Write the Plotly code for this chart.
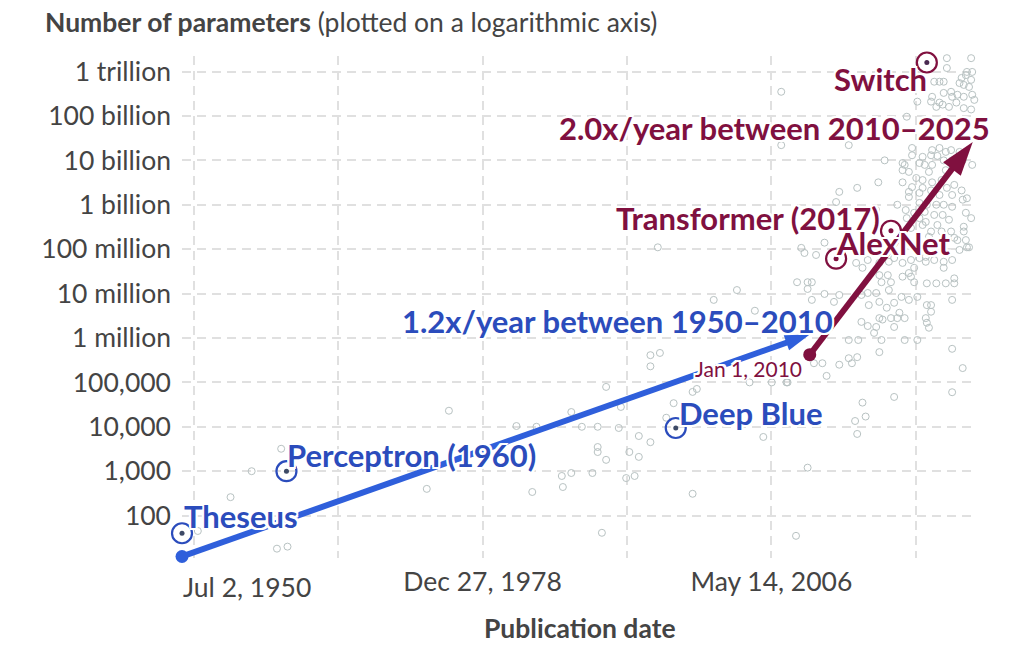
import pandas as pd
import plotly.graph_objects as go

# ---------------- data ----------------
bg_years = [
    # early era
    1975.8, 1955.1, 1957.1, 1959.9, 1952.0, 1959.5, 1960.5, 1973.7, 1982.2, 1984.1,
    1987.4, 1988.4, 1989.9, 1991.9, 1992.1, 1990.7, 1989.9, 1990.7, 1986.5, 1987.4,
    1989.4, 1986.6, 1983.7, 1992.9, 1993.8, 1993.8, 1994.9, 1992.6, 1993.4, 1990.3,
    # 1995-2009
    1995.6, 2003.1, 2000.9, 2004.8, 1994.9, 1995.8, 1994.9, 1999.3, 1998.9, 1997.1,
    1996.4, 1989.9, 1998.9, 2006.4, 2007.9, 2004.3, 2005.6, 2008.7,
    # 2009-2025, lower band
    2008.8, 2009.8, 2010.2, 2009.8, 2010.2, 2011.4, 2012.3, 2012.8, 2014.9, 2015.5,
    2016.3, 2016.6, 2017.5, 2015.6, 2017.3, 2018.0, 2018.7, 2019.4, 2020.2, 2021.1,
    2021.5, 2023.5, 2018.5, 2018.3, 2019.0, 2016.6, 2016.9, 2017.7, 2014.9, 2015.5,
    2016.3, 2016.1, 2018.0, 2021.0, 2021.1, 2021.3, 2013.7, 2014.6, 2016.8, 2019.0,
    2020.2, 2023.5, 2016.6, 2013.7, 2014.5, 2012.8, 2011.2, 2010.4,
    2014.4, 2015.0, 2015.5, 2016.6, 2017.5, 2018.0, 2018.8, 2019.6, 2019.9, 2020.4,
    2021.0, 2022.7, 2023.7, 2023.7, 2022.9, 2022.0, 2021.1, 2016.6, 2017.4, 2016.8,
    2017.7, 2019.6, 2019.9, 2019.4, 2018.8,
    2014.0, 2011.6, 2018.0, 2024.5, 2023.5, 2015.0, 2015.3, 2007.8, 2011.4, 2009.2,
    2009.5, 2010.6, 2024.9, 2024.2, 2024.6, 2023.7, 2021.5, 2014.3, 2014.5, 2009.8,
    # dense upper band
    2017.1, 2019.7, 2020.7, 2021.5, 2022.1, 2022.7, 2019.0, 2020.4, 2021.6, 2018.8,
    2019.4, 2021.3, 2022.9, 2020.1, 2020.7, 2021.6, 2022.5, 2016.5, 2018.8, 2019.7,
    2020.7, 2021.5, 2023.0, 2023.7, 2024.4, 2020.4, 2022.3, 2023.5, 2024.5, 2024.9,
    2019.4, 2020.4, 2021.1, 2022.0, 2022.7, 2023.5, 2018.3, 2019.1, 2019.9, 2020.9,
    2021.8, 2022.6, 2024.8, 2025.3, 2020.4, 2021.0, 2022.1, 2023.2, 2024.6, 2019.2,
    2019.6, 2020.7, 2021.5, 2022.5, 2023.4, 2022.7, 2024.8, 2021.3, 2024.0, 2025.1,
    2020.4, 2021.0, 2021.8, 2022.7, 2023.5, 2016.3,
    # top band
    2023.0, 2024.9, 2025.4, 2021.8, 2022.3, 2022.7, 2024.4, 2024.8, 2025.3, 2024.2,
    2024.6, 2025.1, 2023.4, 2024.0, 2024.6, 2025.4, 2022.7, 2023.5, 2021.6, 2022.3,
    2021.5, 2022.0, 2022.6, 2023.2, 2023.9, 2024.6, 2025.3, 2020.2, 2019.2, 2025.6,
    2019.7, 2021.6, 2022.3, 2022.9, 2023.4, 2024.2, 2023.5, 2024.5, 2018.8, 2020.9,
    2025.4,
    # sparse extras
    2007.3, 2007.3, 2013.7, 2012.8, 2014.5, 2012.5, 2023.0, 2025.3, 2019.4,
]
bg_params = [
    2.3e4, 260, 1.0e3, 3.2e3, 45, 18, 20, 400, 1.04e4, 1.0e4,
    2.15e4, 1.0e4, 1.0e4, 9.4e3, 2.8e4, 7.9e4, 3.5e3, 1.8e3, 780, 910,
    910, 440, 340, 2.7e3, 2.1e3, 6.2e3, 4.5e3, 700, 780, 41,
    1.1e8, 1.2e7, 7.2e6, 4.1e6, 4.1e5, 4.6e5, 2.3e5, 7.1e4, 6.1e4, 3.4e4,
    1.6e4, 2.7e3, 310, 1.0e5, 1.0e5, 1.0e5, 5.9e3, 35,
    1.8e7, 1.8e7, 1.8e7, 1.27e7, 7.2e6, 9.8e6, 6.5e6, 9.3e6, 9.3e6, 1.03e7,
    1.03e7, 6.5e6, 1.2e7, 5.5e6, 4.8e6, 6.2e6, 8.4e6, 7.2e6, 8.4e6, 5.5e6,
    3.9e6, 7.2e6, 3.7e6, 2.8e6, 2.8e6, 2.8e6, 2.6e6, 2.8e6, 2.3e6, 1.86e6,
    1.77e6, 1.3e6, 1.77e6, 2.8e6, 2.2e6, 1.7e6, 9.0e5, 9.0e5, 9.0e5, 9.0e5,
    9.0e5, 5.7e5, 4.8e5, 3.5e5, 3.7e5, 2.5e5, 2.7e5, 2.7e5,
    4.9e7, 3.8e7, 5.7e7, 4.9e7, 5.2e7, 6.3e7, 4.9e7, 5.7e7, 3.8e7, 6.3e7,
    5.2e7, 3.8e7, 2.2e7, 1.7e7, 1.7e7, 1.7e7, 1.7e7, 2.6e7, 2.6e7, 1.8e7,
    1.8e7, 2.4e7, 1.8e7, 2.9e7, 2.4e7,
    2.7e5, 1.4e5, 4.7e4, 2.1e5, 6.0e4, 3.5e4, 1.7e4, 1.0e5, 1.4e8, 1.07e8,
    8.2e7, 7.4e7, 1.1e8, 9.6e7, 2.5e8, 1.8e8, 5.5e6, 1.35e4, 6.9e3, 1.2e3,
    1.0e10, 1.3e10, 1.2e10, 1.3e10, 1.26e10, 1.0e10, 7.9e9, 8.7e9, 7.9e9, 6.0e9,
    5.5e9, 5.5e9, 6.0e9, 4.0e9, 3.6e9, 3.2e9, 3.6e9, 3.2e9, 3.2e9, 2.5e9,
    2.4e9, 2.1e9, 2.4e9, 2.8e9, 2.1e9, 1.85e9, 1.66e9, 1.66e9, 1.3e9, 1.4e9,
    1.5e9, 1.1e9, 1.0e9, 1.0e9, 1.0e9, 9.0e8, 1.0e9, 7.6e8, 6.6e8, 6.9e8,
    5.9e8, 5.9e8, 6.6e8, 5.0e8, 5.0e8, 4.1e8, 3.5e8, 4.6e8, 3.2e8, 5.0e8,
    3.0e8, 3.5e8, 2.5e8, 2.5e8, 2.5e8, 1.45e8, 1.6e8, 1.9e8, 1.6e8, 1.1e8,
    9.6e7, 6.7e7, 5.7e7, 5.2e7, 5.7e7, 7.6e8,
    1.2e12, 9.8e11, 9.8e11, 5.9e11, 5.9e11, 5.9e11, 7.2e11, 8.3e11, 6.5e11, 5.5e11,
    5.0e11, 4.5e11, 3.5e11, 3.0e11, 2.7e11, 3.0e11, 3.3e11, 2.7e11, 2.7e11, 2.0e11,
    2.1e11, 1.6e11, 1.8e11, 1.6e11, 2.0e11, 1.5e11, 1.4e11, 2.1e11, 9.6e10, 2.3e11,
    1.9e10, 1.7e10, 1.9e10, 1.55e10, 1.7e10, 1.55e10, 1.0e10, 1.0e10, 8.7e9, 7.9e9,
    7.9e9,
    3.5e11, 2.2e10, 2.2e10, 1.95e9, 2.4e9, 1.15e9, 2.0e12, 2.0e12, 1.95e9,
]

hl_names = ["Theseus", "Perceptron (1960)", "Deep Blue", "AlexNet", "Transformer (2017)", "Switch"]
hl_years = [1950.5, 1960.4, 1997.3, 2012.5, 2017.7, 2021.1]
hl_params = [40, 1000, 9.4e3, 6.1e7, 2.6e8, 1.6e12]
hl_era = ["pre", "pre", "pre", "deep", "deep", "deep"]

trend_pre_dates = ["1950-07-02", "2010-01-01"]
trend_pre_params = [12, 1.2e6]
trend_deep_dates = ["2010-01-01", "2025-06-15"]
trend_deep_params = [4.2e5, 2.6e10]

y_tickvals = [1e2, 1e3, 1e4, 1e5, 1e6, 1e7, 1e8, 1e9, 1e10, 1e11, 1e12]
y_ticktext = ["100", "1,000", "10,000", "100,000", "1 million", "10 million",
              "100 million", "1 billion", "10 billion", "100 billion", "1 trillion"]
x_tick_anchor = "1978-12-27"
x_tick_offsets_days = [-10000, -5000, 0, 5000, 10000, 15000]
x_ticktext = ["", "", "Dec 27, 1978", "", "May 14, 2006", ""]
x_min_label = "Jul 2, 1950"


def yr2date(y):
    year = int(y)
    start = pd.Timestamp(year, 1, 1)
    end = pd.Timestamp(year + 1, 1, 1)
    return start + (end - start) * (y - year)


# ---------------- style ----------------
FONT = "Lato, 'Open Sans', sans-serif"
BLUE_TXT = "#2b4cbc"
BLUE_LINE = "#2f5fdb"
RED = "#80103f"
GREY_TXT = "#444444"
GRID = "#e0e0e0"
HALO = ("2px 2px 0 #fff, -2px -2px 0 #fff, 2px -2px 0 #fff, -2px 2px 0 #fff, "
        "0 2px 0 #fff, 0 -2px 0 #fff, 2px 0 0 #fff, -2px 0 0 #fff")
TXT = 26.5
LAB = 31

W, H = 1024, 647
L, R, T, B = 182, 49, 56, 89
PX0, PX1, PY0, PY1 = L, W - R, T, H - B


def pxx(px):
    return (px - PX0) / (PX1 - PX0)


def pxy(py):
    return (PY1 - py) / (PY1 - PY0)


fig = go.Figure()

# background models
fig.add_trace(go.Scatter(
    x=[yr2date(v) for v in bg_years], y=bg_params, mode="markers",
    marker=dict(symbol="circle-open", size=7, color="#b8c2c2", line=dict(width=1)),
    hoverinfo="skip", showlegend=False, cliponaxis=False,
))

# trend arrows
for xs, ys, col, head in [
    (trend_pre_dates, trend_pre_params, BLUE_LINE, 26),
    (trend_deep_dates, trend_deep_params, RED, 36),
]:
    fig.add_trace(go.Scatter(
        x=xs, y=ys, mode="lines+markers",
        line=dict(color=col, width=6),
        marker=dict(symbol=["circle", "arrow"], size=[0, head], color=col, opacity=1,
                    angleref="previous", line=dict(width=0)),
        opacity=1,
        hoverinfo="skip", showlegend=False, cliponaxis=False,
    ))
    fig.add_trace(go.Scatter(
        x=xs[:1], y=ys[:1], mode="markers",
        marker=dict(symbol="circle", size=13, color=col),
        hoverinfo="skip", showlegend=False, cliponaxis=False,
    ))

# highlighted models (ring + dot)
hl_cols = [BLUE_TXT if e == "pre" else RED for e in hl_era]
hl_x = [yr2date(v) for v in hl_years]
fig.add_trace(go.Scatter(
    x=hl_x, y=hl_params, mode="markers",
    marker=dict(symbol="circle-open", size=20, color=hl_cols, line=dict(width=2.2)),
    hoverinfo="skip", showlegend=False, cliponaxis=False,
))
fig.add_trace(go.Scatter(
    x=hl_x, y=hl_params, mode="markers",
    marker=dict(symbol="circle", size=5, color=["#3d4a66", "#3d4a66", "#3d4a66", RED, RED, "#4a2a50"]),
    hoverinfo="skip", showlegend=False, cliponaxis=False,
))

annotations = []


def label(text, px, py, anchor, color, size):
    annotations.append(dict(
        text=text, x=pxx(px), y=pxy(py), xref="paper", yref="paper",
        xanchor=anchor, yanchor="middle", showarrow=False,
        font=dict(family=FONT, size=size, color=color, shadow=HALO),
    ))


label("<b>Switch</b>", 929, 79, "right", RED, LAB)
label("<b>2.0x/year between 2010–2025</b>", 992, 128, "right", RED, LAB)
label("<b>Transformer (2017)</b>", 882, 218, "right", RED, LAB)
label("<b>AlexNet</b>", 834, 243, "left", RED, LAB)
label("<b>1.2x/year between 1950–2010</b>", 835, 321, "right", BLUE_TXT, LAB)
label("Jan 1, 2010", 804, 368, "right", RED, 21)
label("<b>Deep Blue</b>", 677, 413, "left", BLUE_TXT, LAB)
label("<b>Perceptron (1960)</b>", 285, 455, "left", BLUE_TXT, LAB)
label("<b>Theseus</b>", 182, 516, "left", BLUE_TXT, LAB)

# titles
annotations.append(dict(
    text="<b>Number of parameters</b> (plotted on a logarithmic axis)",
    x=pxx(43), y=pxy(22), xref="paper", yref="paper", xanchor="left", yanchor="middle",
    showarrow=False, font=dict(family=FONT, size=TXT, color=GREY_TXT),
))
annotations.append(dict(
    text="<b>Publication date</b>", x=pxx(580), y=pxy(628), xref="paper", yref="paper",
    xanchor="center", yanchor="middle", showarrow=False,
    font=dict(family=FONT, size=TXT, color=GREY_TXT),
))
annotations.append(dict(
    text=x_min_label, x=pxx(181), y=pxy(587), xref="paper", yref="paper",
    xanchor="left", yanchor="middle", showarrow=False,
    font=dict(family=FONT, size=TXT, color=GREY_TXT),
))

x_tickvals = [pd.Timestamp(x_tick_anchor) + pd.Timedelta(days=d) for d in x_tick_offsets_days]

fig.update_layout(
    width=W, height=H,
    margin=dict(l=L, r=R, t=T, b=B),
    paper_bgcolor="white", plot_bgcolor="white",
    font=dict(family=FONT, color=GREY_TXT),
    annotations=annotations,
    showlegend=False,
    hovermode=False,
    xaxis=dict(
        type="date",
        range=[pd.Timestamp("1950-07-02"), pd.Timestamp("2025-09-01")],
        tickvals=x_tickvals, ticktext=x_ticktext,
        showgrid=True, gridcolor=GRID, gridwidth=1.5, griddash="9px,6px",
        zeroline=False, showline=False, ticks="",
        tickfont=dict(size=TXT, color=GREY_TXT), ticklabelstandoff=5,
    ),
    yaxis=dict(
        type="log", range=[1.045, 12.35],
        tickvals=y_tickvals, ticktext=y_ticktext,
        showgrid=True, gridcolor=GRID, gridwidth=1.5, griddash="9px,6px",
        zeroline=False, showline=False, ticks="",
        tickfont=dict(size=TXT, color=GREY_TXT), ticklabelstandoff=10,
    ),
)

fig.write_html("out.html", config={"displayModeBar": False},
               post_script="document.body.style.margin='0';")
